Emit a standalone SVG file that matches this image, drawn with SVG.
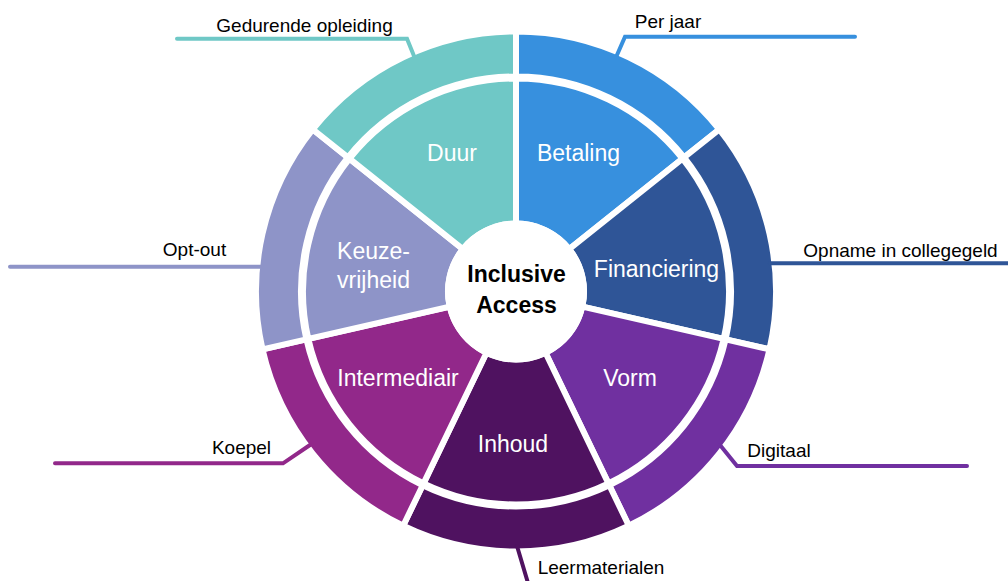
<svg xmlns="http://www.w3.org/2000/svg" width="1008" height="581" viewBox="0 0 1008 581">
<style>
.seg{stroke:#fff;stroke-width:6;stroke-linejoin:miter}
.lbl{font-family:"Liberation Sans",Arial,sans-serif;font-size:23px;fill:#fff;text-anchor:middle}
.lead{font-family:"Liberation Sans",Arial,sans-serif;font-size:19px;fill:#000;text-anchor:middle}
.ctr{font-family:"Liberation Sans",Arial,sans-serif;font-size:23px;font-weight:bold;fill:#000;text-anchor:middle}
.ln{fill:none;stroke-width:4;stroke-linecap:round;stroke-linejoin:miter}
.c1{fill:#6FC8C6}.s1{stroke:#6FC8C6}
.c2{fill:#3790DE}.s2{stroke:#3790DE}
.c3{fill:#2F5597}.s3{stroke:#2F5597}
.c4{fill:#7030A0}.s4{stroke:#7030A0}
.c5{fill:#4F1260}.s5{stroke:#4F1260}
.c6{fill:#92288A}.s6{stroke:#92288A}
.c7{fill:#8E94C8}.s7{stroke:#8E94C8}
</style>
<rect width="1008" height="581" fill="#fff"/>
<g id="betaling">
<path class="seg c2" d="M 516 31.5 A 260 260 0 0 1 719.28 129.39 L 684.09 157.45 A 215 215 0 0 0 516 76.5 Z"/>
<path class="seg c2" d="M 516 78.5 A 213 213 0 0 1 682.53 158.7 L 569.16 249.1 A 68 68 0 0 0 516 223.5 Z"/>
<text class="lbl" x="578.5" y="161">Betaling</text>
<text class="lead" x="668" y="28">Per jaar</text>
</g>
<g id="financiering">
<path class="seg c3" d="M 719.28 129.39 A 260 260 0 0 1 769.48 349.36 L 725.61 339.34 A 215 215 0 0 0 684.09 157.45 Z"/>
<path class="seg c3" d="M 682.53 158.7 A 213 213 0 0 1 723.66 338.9 L 582.3 306.63 A 68 68 0 0 0 569.16 249.1 Z"/>
<text class="lbl" x="656.5" y="277">Financiering</text>
<text class="lead" x="900.5" y="256.5">Opname in collegegeld</text>
</g>
<g id="vorm">
<path class="seg c4" d="M 769.48 349.36 A 260 260 0 0 1 628.81 525.75 L 609.28 485.21 A 215 215 0 0 0 725.61 339.34 Z"/>
<path class="seg c4" d="M 723.66 338.9 A 213 213 0 0 1 608.42 483.41 L 545.5 352.77 A 68 68 0 0 0 582.3 306.63 Z"/>
<text class="lbl" x="630" y="386">Vorm</text>
<text class="lead" x="779" y="457">Digitaal</text>
</g>
<g id="inhoud">
<path class="seg c5" d="M 628.81 525.75 A 260 260 0 0 1 403.19 525.75 L 422.72 485.21 A 215 215 0 0 0 609.28 485.21 Z"/>
<path class="seg c5" d="M 608.42 483.41 A 213 213 0 0 1 423.58 483.41 L 486.5 352.77 A 68 68 0 0 0 545.5 352.77 Z"/>
<text class="lbl" x="513" y="452">Inhoud</text>
<text class="lead" x="601" y="574">Leermaterialen</text>
</g>
<g id="intermediair">
<path class="seg c6" d="M 403.19 525.75 A 260 260 0 0 1 262.52 349.36 L 306.39 339.34 A 215 215 0 0 0 422.72 485.21 Z"/>
<path class="seg c6" d="M 423.58 483.41 A 213 213 0 0 1 308.34 338.9 L 449.7 306.63 A 68 68 0 0 0 486.5 352.77 Z"/>
<text class="lbl" x="398" y="386">Intermediair</text>
<text class="lead" x="241.5" y="454">Koepel</text>
</g>
<g id="keuzevrijheid">
<path class="seg c7" d="M 262.52 349.36 A 260 260 0 0 1 312.72 129.39 L 347.91 157.45 A 215 215 0 0 0 306.39 339.34 Z"/>
<path class="seg c7" d="M 308.34 338.9 A 213 213 0 0 1 349.47 158.7 L 462.84 249.1 A 68 68 0 0 0 449.7 306.63 Z"/>
<text class="lbl" x="373.5" y="259">Keuze-</text>
<text class="lbl" x="373.5" y="288">vrijheid</text>
<text class="lead" x="194.5" y="256">Opt-out</text>
</g>
<g id="duur">
<path class="seg c1" d="M 312.72 129.39 A 260 260 0 0 1 516 31.5 L 516 76.5 A 215 215 0 0 0 347.91 157.45 Z"/>
<path class="seg c1" d="M 349.47 158.7 A 213 213 0 0 1 516 78.5 L 516 223.5 A 68 68 0 0 0 462.84 249.1 Z"/>
<text class="lbl" x="452" y="161">Duur</text>
<text class="lead" x="304.5" y="31.5">Gedurende opleiding</text>
</g>
<g id="center">
<circle cx="516" cy="291.5" r="71" fill="#fff"/>
<text class="ctr" x="516.5" y="282">Inclusive</text>
<text class="ctr" x="516.5" y="313">Access</text>
</g>
<g id="connectors">
<polyline class="ln s1" points="177,38.7 407,38.7 414,56"/>
<polyline class="ln s2" points="855,36.7 625,36.7 617,55"/>
<polyline class="ln s3" points="1008,263.3 770,263.3"/>
<polyline class="ln s7" points="10,266.7 262,266.7"/>
<polyline class="ln s6" points="55,463.3 283,463.3 310,445"/>
<polyline class="ln s4" points="967,466 737,466 720,445"/>
<polyline class="ln s5" points="517,546 528,583"/>
</g>
</svg>
